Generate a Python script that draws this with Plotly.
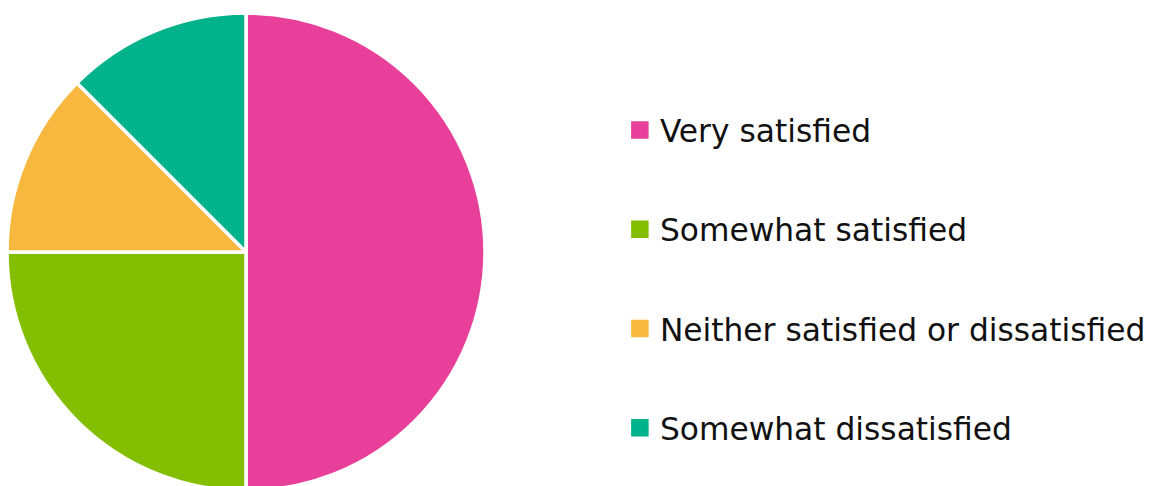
import plotly.graph_objects as go

# Survey responses (share of respondents, %)
labels = ["Very satisfied", "Somewhat satisfied",
          "Neither satisfied or dissatisfied", "Somewhat dissatisfied"]
values = [50, 25, 12.5, 12.5]
colors = ["#E8409A", "#84BE00", "#F8B83F", "#02B28B"]

FONT = "DejaVu Sans, Open Sans, sans-serif"

fig = go.Figure()

fig.add_trace(go.Pie(
    labels=labels,
    values=values,
    sort=False,
    direction="clockwise",
    rotation=0,
    marker=dict(colors=colors, line=dict(color="#ffffff", width=3.5)),
    textinfo="none",
    hoverinfo="label+percent",
    showlegend=False,
    domain=dict(x=[7 / 1163, 485 / 1163], y=[0, 1]),
))

# Legend entries: one square marker per category, each in its own group
for lab, col in zip(labels, colors):
    fig.add_trace(go.Scatter(
        x=[None], y=[None],
        mode="markers",
        name=lab,
        legendgroup=lab,
        marker=dict(symbol="square", size=17, color=col,
                    line=dict(color=col, width=1.5)),
        hoverinfo="skip",
    ))

fig.update_layout(
    width=1163,
    height=491,
    margin=dict(l=0, r=0, t=13, b=0),
    paper_bgcolor="#ffffff",
    plot_bgcolor="#ffffff",
    xaxis=dict(visible=False),
    yaxis=dict(visible=False),
    legend=dict(
        x=0.533, xanchor="left",
        y=0.443, yanchor="middle",
        font=dict(family=FONT, size=31.3, color="#111111"),
        tracegroupgap=55.5,
        itemclick=False,
        bgcolor="rgba(0,0,0,0)",
    ),
)

fig.write_html(
    "out.html",
    post_script="document.documentElement.style.overflow='hidden';"
                "document.body.style.overflow='hidden';",
)
